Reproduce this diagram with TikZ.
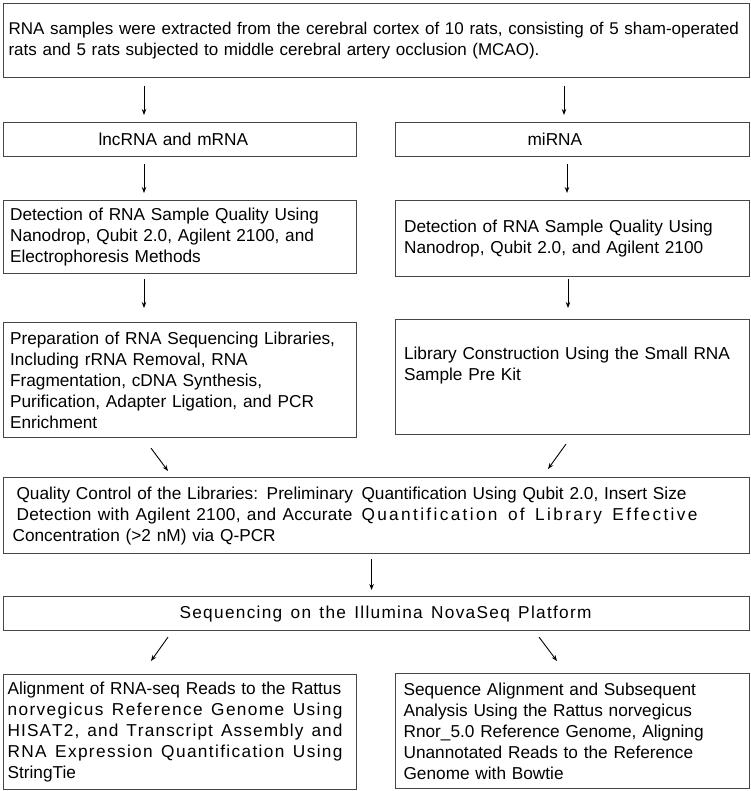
\documentclass[tikz,border=0pt]{standalone}
\usepackage{fontspec}
\setmainfont{Liberation Sans}
\usetikzlibrary{arrows.meta}
\definecolor{boxcol}{RGB}{70,70,70}
\newcommand\bodyfont{\fontsize{17.25}{21}\selectfont}
\newcommand\topfont{\fontsize{17.0}{21}\selectfont}
\makeatletter
\def\ls@end{\ls@end}
\newcommand\spread[2]{\makebox[#1][s]{\ls@first#2\ls@end}}
\def\ls@first#1{#1\ls@loop}
\def\ls@loop#1{\ifx#1\ls@end\else\hskip 0pt plus 1fil\relax#1\expandafter\ls@loop\fi}
\makeatother
\begin{document}
\begin{tikzpicture}[x=1pt,y=-1pt,
  box/.style={draw=boxcol, line width=1.1pt, rectangle, anchor=north west,
    inner ysep=0pt, align=left, font=\bodyfont, text=black},
  arr/.style={-{Stealth[length=6pt,width=4.5pt]}, line width=0.9pt, black}]
\useasboundingbox (0,0) rectangle (750,791);
\fill[white] (0,0) rectangle (750,791);

% top box
\node[box, font=\topfont, text width=736pt, inner xsep=5pt, minimum height=74pt] (top) at (3,3)
 {\mbox{RNA samples were extracted from the cerebral cortex of 10 rats, consisting of 5 sham-operated}\\
  rats and 5 rats subjected to middle cerebral artery occlusion (MCAO).};

% row 1
\node[box, text width=353pt, inner xsep=0pt, minimum height=34pt] (A1) at (3,122)
 {\hspace*{95pt}lncRNA and mRNA};
\node[box, text width=354pt, inner xsep=0pt, minimum height=34pt] (B1) at (395,122)
 {\hspace*{132pt}miRNA};

% row 2
\node[box, text width=340pt, inner xsep=6.5pt, minimum height=73pt] (A2) at (3,200)
 {Detection of RNA Sample Quality Using\\
  Nanodrop, Qubit 2.0, Agilent 2100, and\\
  Electrophoresis Methods};
\node[box, text width=337pt, inner xsep=8.5pt, minimum height=76pt] (B2) at (395,200)
 {Detection of RNA Sample Quality Using\\
  Nanodrop, Qubit 2.0, and Agilent 2100};

% row 3
\node[box, text width=340pt, inner xsep=6.5pt, minimum height=115pt] (A3) at (3,322)
 {Preparation of RNA Sequencing Libraries,\\
  Including rRNA Removal, RNA\\
  Fragmentation, cDNA Synthesis,\\
  Purification, Adapter Ligation, and PCR\\
  Enrichment};
\node[box, text width=337pt, inner xsep=8.5pt, minimum height=115pt] (B3) at (395,319)
 {Library Construction Using the Small RNA\\
  Sample Pre Kit\\
  \strut};

% quality control
\node[box, text width=728pt, inner xsep=9pt, minimum height=76pt] (Q) at (3,477)
 {\hspace*{4pt}\makebox[345pt][l]{Quality Control of the Libraries: Preliminary}Quantification Using Qubit 2.0, Insert Size\\
  \hspace*{4pt}\makebox[345pt][l]{\spread{336pt}{Detection~with~Agilent~2100,~and~Accurate}}\spread{336pt}{Quantification~of~Library~Effective}\\
  Concentration (>2 nM) via Q-PCR};

% sequencing
\node[box, text width=734pt, inner xsep=6pt, minimum height=34pt] (S) at (3,596)
 {\hspace*{170pt}\spread{412pt}{Sequencing~on~the~Illumina~NovaSeq~Platform}};

% bottom row
\node[box, text width=345pt, inner xsep=4pt, minimum height=115pt] (A4) at (3,674)
 {Alignment of RNA-seq Reads to the Rattus\\
  \spread{335pt}{norvegicus~Reference~Genome~Using}\\
  \spread{335pt}{HISAT2,~and~Transcript~Assembly~and}\\
  \spread{335pt}{RNA~Expression~Quantification~Using}\\
  StringTie};
\node[box, text width=338pt, inner xsep=8pt, minimum height=115pt] (B4) at (395,673)
 {Sequence Alignment and Subsequent\\
  Analysis Using the Rattus norvegicus\\
  Rnor\_5.0 Reference Genome, Aligning\\
  Unannotated Reads to the Reference\\
  Genome with Bowtie};

% vertical arrows
\draw[arr, shorten <=8pt, shorten >=7pt] ([xshift=141pt]top.south west) -- ([xshift=141pt]A1.north west);
\draw[arr, shorten <=8pt, shorten >=7pt] ([xshift=169pt]B1.north west |- top.south) -- ([xshift=169pt]B1.north west);
\draw[arr, shorten <=7pt, shorten >=7pt] ([xshift=141pt]A1.south west) -- ([xshift=141pt]A2.north west);
\draw[arr, shorten <=7pt, shorten >=7pt] ([xshift=172pt]B1.south west) -- ([xshift=172pt]B2.north west);
\draw[arr, shorten <=5pt, shorten >=14pt] ([xshift=141pt]A2.south west) -- ([xshift=141pt]A3.north west);
\draw[arr, shorten <=2pt, shorten >=11pt] ([xshift=173pt]B2.south west) -- ([xshift=173pt]B3.north west);
\draw[arr, shorten <=5pt, shorten >=6pt] ([xshift=-5pt]Q.south) -- ([xshift=-5pt]S.north);

% diagonal arrows
\draw[arr] ([xshift=148pt,yshift=-10pt]A3.south west) -- ([xshift=165pt,yshift=6pt]Q.north west);
\draw[arr] ([xshift=171pt,yshift=-9pt]B3.south west) -- ([xshift=545pt,yshift=8pt]Q.north west);
\draw[arr] ([xshift=165pt,yshift=-6pt]S.south west) -- ([xshift=148pt,yshift=13pt]A4.north west);
\draw[arr] ([xshift=536pt,yshift=-6pt]S.south west) -- ([xshift=162pt,yshift=12pt]B4.north west);
\end{tikzpicture}
\end{document}
